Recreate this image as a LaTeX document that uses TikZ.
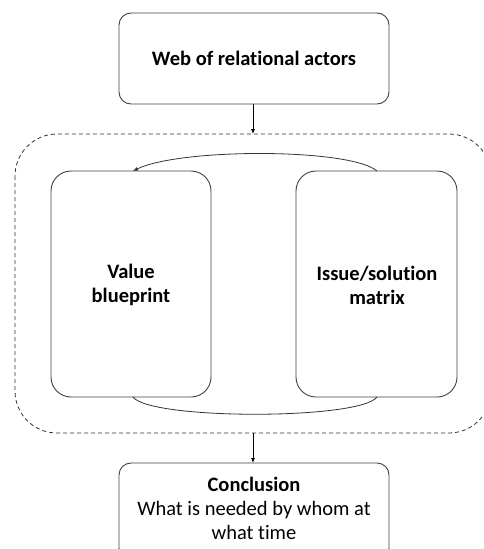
\documentclass[tikz,border=0pt]{standalone}
\usepackage{fontspec}
\setmainfont{Carlito}[Ligatures=NoCommon]
\usetikzlibrary{arrows.meta}
\begin{document}
\begin{tikzpicture}[x=1pt,y=-1pt,
  box/.style={draw=black!75, line width=0.9pt, rounded corners=#1, inner sep=0pt},
  box/.default=12pt,
  flow/.style={draw=black, line width=0.8pt, -{Latex[length=5pt,width=4pt]}},
  link/.style={draw=black!80, line width=0.8pt},
  txt/.style={font=\fontsize{20.5}{24}\selectfont, align=center},
  btxt/.style={font=\fontsize{20.5}{24}\selectfont\bfseries, align=center},
]
\useasboundingbox (0,0) rectangle (483,549);
\clip (0,0) rectangle (483,549);

% top box
\draw[box] (119,13) rectangle (389,104);
\node[btxt] (web) at (254,58) {Web of relational actors};
\coordinate (webS) at (253,104);

% dashed container
\draw[draw=black!80, line width=0.8pt, dash pattern=on 4pt off 3pt, rounded corners=42pt]
  (15,134) rectangle (491,433);
\coordinate (contN) at (253,134);
\coordinate (contS) at (253,433);

% inner boxes
\draw[box=20pt] (51,171) rectangle (211,397);
\draw[box=20pt] (296,171) rectangle (457,397);
\node[btxt] (vb) at (131,285) {Value\\blueprint};
\node[btxt] (ism) at (377,285) {Issue/solution\\matrix};
\coordinate (vbN) at (133,171);
\coordinate (vbS) at (133,397);
\coordinate (ismN) at (377,171);
\coordinate (ismS) at (377,397);

% loop between the two views
\draw[link, -{Latex[length=5pt,width=4pt]}] (ismN) .. controls (350,148) and (180,148) .. (vbN);
\draw[link] (vbS) .. controls (150,420) and (360,420) .. (ismS);

% conclusion box
\draw[box] (119,463) rectangle (389,560);
\node[txt] (con) at (254,508) {\textbf{Conclusion}\\What is needed by whom at\\what time};
\coordinate (conN) at (253,463);

% flow arrows
\draw[flow] (webS) -- (contN);
\draw[flow] (contS) -- (conN);
\end{tikzpicture}
\end{document}
